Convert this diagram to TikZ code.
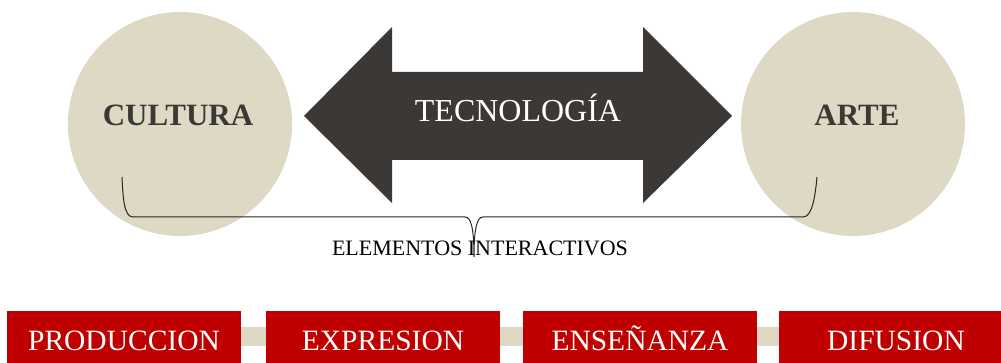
\documentclass[tikz,border=0pt]{standalone}
\usepackage{fontspec}
\setmainfont{Liberation Serif}
\usepackage{xcolor}
\definecolor{tanbg}{RGB}{221,217,196}
\definecolor{darkgrey}{RGB}{59,56,54}
\definecolor{boxred}{RGB}{192,0,0}
\tikzset{
  ball/.style={circle, fill=tanbg, draw=none, minimum size=224pt, inner sep=0pt},
  balltext/.style={anchor=base, inner sep=0pt, font=\fontsize{31}{31}\selectfont\bfseries, text=darkgrey},
  redbox/.style={fill=boxred, draw=none, minimum width=234pt, minimum height=52pt, inner sep=0pt,
    text=white, text height=26pt, text depth=0pt, font=\fontsize{29.5}{29.5}\selectfont},
  bracket/.style={draw=black!85, line width=1pt}
}
\begin{document}
\begin{tikzpicture}[x=1pt,y=1pt,yscale=-1,xscale=1]
\useasboundingbox (0,0) rectangle (1001,363);

% Circles
\node [ball] (cultura) at (180,124) {};
\node [ball] (arte) at (853,124) {};
\node [balltext] (culturatxt) at (178,126) {CULTURA};
\node [balltext] (artetxt) at (857,126) {ARTE};

% Double arrow
\fill [darkgrey] (304,116) -- (392,27) -- (392,72) -- (643,72) -- (643,27) -- (732,116)
  -- (643,203) -- (643,160) -- (392,160) -- (392,203) -- cycle;
\node [anchor=base, inner sep=0pt, text=white, font=\fontsize{32}{32}\selectfont] (tecno) at (518,122) {TECNOLOGÍA};

% Brace
\draw [bracket] (122,177) .. controls (123,198) and (124,217) .. (133,217) -- (465,217)
  .. controls (471,217) and (474,228) .. (474,257)
  .. controls (474,228) and (477,217) .. (483,217) -- (803,217)
  .. controls (812,217) and (815,198) .. (817,177);
\node [anchor=base, inner sep=0pt, font=\fontsize{22}{22}\selectfont] (elementos) at (480,256) {ELEMENTOS INTERACTIVOS};

% Bottom strip and boxes
\fill [tanbg] (7,327) rectangle (1001,346);
\node [redbox] (produccion) at (124,337) {PRODUCCION};
\node [redbox] (expresion) at (383,337) {EXPRESION};
\node [redbox] (ensenanza) at (640,337) {ENSEÑANZA};
\node [redbox] (difusion) at (896,337) {DIFUSION};

\end{tikzpicture}
\end{document}
